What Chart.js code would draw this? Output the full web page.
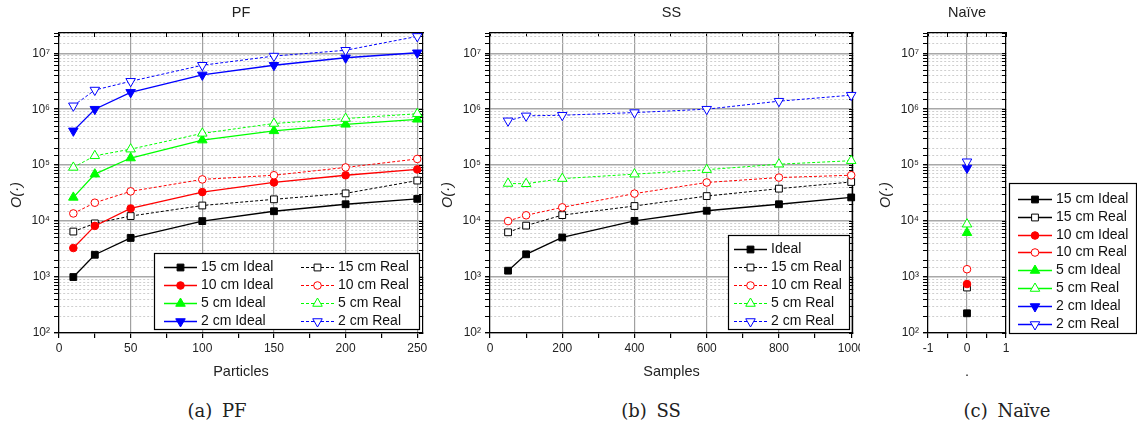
<!DOCTYPE html>
<html>
<head>
<meta charset="utf-8">
<script src="https://cdn.jsdelivr.net/npm/chart.js@4.4.1/dist/chart.umd.min.js"></script>
<style>
  body { margin: 0; background: #fff; }
  #fig { position: relative; width: 1137px; height: 428px; overflow: hidden; background: #fff; }
  #fig canvas { position: absolute; top: 0; }
  .cap { position: absolute; top: 400px; width: 200px; line-height: 22px; text-align: center;
         font: 18px "DejaVu Serif", serif; color: #222; word-spacing: 4px; }
</style>
</head>
<body>
<div id="fig">
  <canvas id="pf" width="430" height="390" style="left:0"></canvas>
  <canvas id="ss" width="429" height="390" style="left:431px"></canvas>
  <canvas id="naive" width="268" height="390" style="left:869px"></canvas>
  <div class="cap" style="left:117px">(a) PF</div>
  <div class="cap" style="left:551px">(b) SS</div>
  <div class="cap" style="left:907px">(c) Naïve</div>
</div>
<script>
// --- data ---
const pfParticles = [10, 25, 50, 100, 150, 200, 250];
const pfIdeal15 = [1000, 2500, 5000, 10000, 15000, 20000, 25000];
const pfReal15  = [6500, 9100, 12300, 19000, 24500, 31300, 53000];
const pfIdeal10 = [3300, 8200, 16800, 33000, 49000, 66000, 84000];
const pfReal10  = [13700, 21300, 34000, 55600, 66000, 91000, 129000];
const pfIdeal5  = [26500, 69000, 134000, 280000, 410000, 537000, 660000];
const pfReal5   = [91000, 147000, 193000, 370000, 555000, 680000, 830000];
const pfIdeal2  = [410000, 1000000, 2000000, 4100000, 6100000, 8300000, 10200000];
const pfReal2   = [1150000, 2200000, 3150000, 6100000, 8900000, 11300000, 20000000];

const ssSamples = [50, 100, 200, 400, 600, 800, 1000];
const ssIdeal  = [1300, 2550, 5100, 10100, 15300, 20000, 26500];
const ssReal15 = [6300, 8300, 12800, 18600, 28000, 38000, 50000];
const ssReal10 = [10000, 12700, 17600, 31000, 49000, 60000, 66000];
const ssReal5  = [47000, 46500, 57500, 69000, 83000, 104000, 120000];
const ssReal2  = [620000, 760000, 780000, 870000, 1000000, 1390000, 1780000];

const naiveX = [0];
const naiveLabels = ['15 cm Ideal', '15 cm Real', '10 cm Ideal', '10 cm Real',
                     '5 cm Ideal', '5 cm Real', '2 cm Ideal', '2 cm Real'];
const naiveValues = [225, 650, 750, 1380, 6200, 8800, 89000, 115000];

const yMin = 100, yMax = 2.3e7;

// --- styling ---
const FONT = 'Arial, "Liberation Sans", Helvetica, sans-serif';
Chart.defaults.font.family = FONT;
Chart.defaults.color = '#1a1a1a';
Chart.defaults.animation = false;

const COLOR = { '15 cm': '#000000', '10 cm': '#ff0000', '5 cm': '#00ff00', '2 cm': '#0000ff' };
const MARK = {
  '15 cm': { style: 'rect', radius: 4.8, rot: 0 },
  '10 cm': { style: 'circle', radius: 3.8, rot: 0 },
  '5 cm':  { style: 'triangle', radius: 5.5, rot: 0 },
  '2 cm':  { style: 'triangle', radius: 5.5, rot: 180 }
};
const SUP = { '0': '⁰', '1': '¹', '2': '²', '3': '³', '4': '⁴', '5': '⁵', '6': '⁶', '7': '⁷', '8': '⁸', '9': '⁹' };

function decade(v) {
  const e = Math.log10(v);
  return Math.abs(e - Math.round(e)) < 1e-6 ? Math.round(e) : null;
}
const multipleOf = (v, step) => Math.abs(v / step - Math.round(v / step)) < 1e-6;

function series(label, size, filled, dashed, xs, ys) {
  const c = COLOR[size], m = MARK[size];
  return {
    label,
    data: xs.map((x, i) => ({ x, y: ys[i] })),
    borderColor: c,
    backgroundColor: c,
    borderWidth: dashed ? 1 : 1.3,
    borderDash: dashed ? [3, 2] : [],
    pointStyle: m.style,
    pointRotation: m.rot,
    pointRadius: m.radius,
    pointHoverRadius: m.radius,
    pointBackgroundColor: filled ? c : '#ffffff',
    pointBorderColor: c,
    pointBorderWidth: 1,
    tension: 0,
    fill: false,
    clip: false
  };
}

// step = generated tick spacing, minor = spacing of visible tick marks, major = labelled + gridline
function axes(xMin, xMax, step, minor, major, xTitle) {
  const tickCol = c => c.tick && multipleOf(c.tick.value, minor) ? '#000' : 'rgba(0,0,0,0)';
  const border = { color: '#000', width: 1.2 };
  return {
    x: {
      type: 'linear', min: xMin, max: xMax,
      afterFit: s => { s.height = 57; s.paddingLeft = 0; s.paddingRight = 0; },
      ticks: { stepSize: step, autoSkip: false, includeBounds: false, maxRotation: 0,
               padding: 3, font: { size: 12 }, color: '#222',
               callback: v => multipleOf(v, major) ? String(v) : '' },
      grid: { color: c => c.tick && multipleOf(c.tick.value, major) ? '#a0a0a0' : 'rgba(0,0,0,0)',
              lineWidth: 1.2, tickColor: tickCol, tickLength: 5 },
      border,
      title: { display: true, text: xTitle, font: { size: 14.5 }, color: '#222',
               padding: { top: 0, bottom: 9 } }
    },
    x2: {
      type: 'linear', position: 'top', min: xMin, max: xMax,
      afterFit: s => { s.height = 0; s.paddingLeft = 0; s.paddingRight = 0; },
      ticks: { display: false, stepSize: step, autoSkip: false, includeBounds: false },
      grid: { drawOnChartArea: false, tickColor: tickCol, tickLength: -4 },
      border
    },
    y: {
      type: 'logarithmic', min: yMin, max: yMax,
      afterFit: s => { s.width = 59; s.paddingTop = 0; s.paddingBottom = 0; },
      ticks: { autoSkip: false, padding: 4, font: { size: 12 }, color: '#222',
               callback: v => {
                 const e = decade(v);
                 return e === null ? '' : '10' + String(e).split('').map(d => SUP[d]).join('');
               } },
      grid: { color: c => c.tick && decade(c.tick.value) !== null ? '#a8a8a8' : '#cfcfcf',
              lineWidth: c => c.tick && decade(c.tick.value) !== null ? 1.4 : 1,
              tickColor: '#000', tickLength: 5 },
      border: { color: '#000', width: 1.2,
                dash: c => c.tick && decade(c.tick.value) === null ? [2, 2] : [] },
      title: { display: true, text: 'O(·)      ', font: { size: 14.5, style: 'italic' },
               color: '#222', padding: { top: 8, bottom: 0 } }
    },
    y2: {
      type: 'logarithmic', position: 'right', min: yMin, max: yMax,
      afterFit: s => { s.width = 0; s.paddingTop = 0; s.paddingBottom = 0; },
      ticks: { display: false, autoSkip: false },
      grid: { drawOnChartArea: false, tickColor: '#000', tickLength: -4 },
      border
    }
  };
}

// legend box drawn inside / beside the plot, like the original figure
const boxLegend = {
  id: 'boxLegend',
  afterDraw(chart, args, o) {
    if (!o || !o.columns) return;
    const { ctx, chartArea } = chart;
    const x0 = o.outside ? chartArea.right + o.gap : chartArea.right - o.inset - o.width;
    const y0 = chartArea.bottom - o.inset - o.height;
    ctx.save();
    ctx.fillStyle = '#fff';
    ctx.fillRect(x0, y0, o.width, o.height);
    ctx.strokeStyle = '#000';
    ctx.lineWidth = 1.2;
    ctx.strokeRect(x0 + 0.5, y0 + 0.5, o.width, o.height);
    ctx.font = '14px ' + FONT;
    ctx.textBaseline = 'middle';
    o.columns.forEach((col, ci) => col.forEach((di, r) => {
      const ds = chart.data.datasets[di];
      const lx = x0 + o.colX[ci];
      const y = Math.round(y0 + o.firstRow + r * o.rowHeight) + 0.5;
      ctx.beginPath();
      ctx.setLineDash(ds.borderDash || []);
      ctx.strokeStyle = ds.borderColor;
      ctx.lineWidth = ds.borderWidth;
      ctx.moveTo(lx, y);
      ctx.lineTo(lx + o.lineLen, y);
      ctx.stroke();
      ctx.setLineDash([]);
      ctx.fillStyle = ds.pointBackgroundColor;
      ctx.strokeStyle = ds.pointBorderColor;
      ctx.lineWidth = 1;
      Chart.helpers.drawPoint(ctx, { pointStyle: ds.pointStyle, rotation: ds.pointRotation,
        radius: ds.pointRadius, borderWidth: 1 }, lx + o.lineLen / 2, y);
      ctx.fillStyle = '#111';
      ctx.fillText(ds.label, lx + o.lineLen + o.textGap, y);
    }));
    ctx.restore();
  }
};

function makeChart(id, title, datasets, scales, padRight, legend) {
  datasets.forEach((d, i) => { d.order = -i; });
  return new Chart(document.getElementById(id), {
    type: 'line',
    data: { datasets },
    options: {
      responsive: false,
      maintainAspectRatio: false,
      layout: { padding: { left: 0, right: padRight, top: 0, bottom: 0 } },
      scales,
      plugins: {
        legend: { display: false },
        tooltip: { enabled: false },
        title: { display: true, text: title, fullSize: false, color: '#222',
                 font: { size: 14.5, weight: 'normal' }, padding: { top: 4, bottom: 11.6 } },
        boxLegend: legend
      }
    },
    plugins: [boxLegend]
  });
}

// (a) PF
makeChart('pf', 'PF', [
  series('15 cm Ideal', '15 cm', true, false, pfParticles, pfIdeal15),
  series('15 cm Real', '15 cm', false, true, pfParticles, pfReal15),
  series('10 cm Ideal', '10 cm', true, false, pfParticles, pfIdeal10),
  series('10 cm Real', '10 cm', false, true, pfParticles, pfReal10),
  series('5 cm Ideal', '5 cm', true, false, pfParticles, pfIdeal5),
  series('5 cm Real', '5 cm', false, true, pfParticles, pfReal5),
  series('2 cm Ideal', '2 cm', true, false, pfParticles, pfIdeal2),
  series('2 cm Real', '2 cm', false, true, pfParticles, pfReal2)
], axes(0, 254, 25, 25, 50, 'Particles'), 7, {
  inset: 4, width: 265, height: 76, colX: [10, 147], lineLen: 33, textGap: 4,
  firstRow: 13.7, rowHeight: 18, columns: [[0, 2, 4, 6], [1, 3, 5, 7]]
});

// (b) SS
makeChart('ss', 'SS', [
  series('Ideal', '15 cm', true, false, ssSamples, ssIdeal),
  series('15 cm Real', '15 cm', false, true, ssSamples, ssReal15),
  series('10 cm Real', '10 cm', false, true, ssSamples, ssReal10),
  series('5 cm Real', '5 cm', false, true, ssSamples, ssReal5),
  series('2 cm Real', '2 cm', false, true, ssSamples, ssReal2)
], axes(0, 1005, 50, 100, 200, 'Samples'), 7, {
  inset: 4, width: 121, height: 94, colX: [6], lineLen: 33, textGap: 4,
  firstRow: 14, rowHeight: 18, columns: [[0, 1, 2, 3, 4]]
});

// (c) Naive
makeChart('naive', 'Naïve', naiveLabels.map((lab, i) => {
  const size = lab.replace(/ (Ideal|Real)$/, '');
  return series(lab, size, lab.endsWith('Ideal'), false, naiveX, [naiveValues[i]]);
}), axes(-1, 1, 0.5, 0.5, 1, '.'), 131, {
  outside: true, gap: 3, inset: 0, width: 127, height: 150, colX: [9], lineLen: 34, textGap: 4,
  firstRow: 15.7, rowHeight: 17.9, columns: [[0, 1, 2, 3, 4, 5, 6, 7]]
});
</script>
</body>
</html>
